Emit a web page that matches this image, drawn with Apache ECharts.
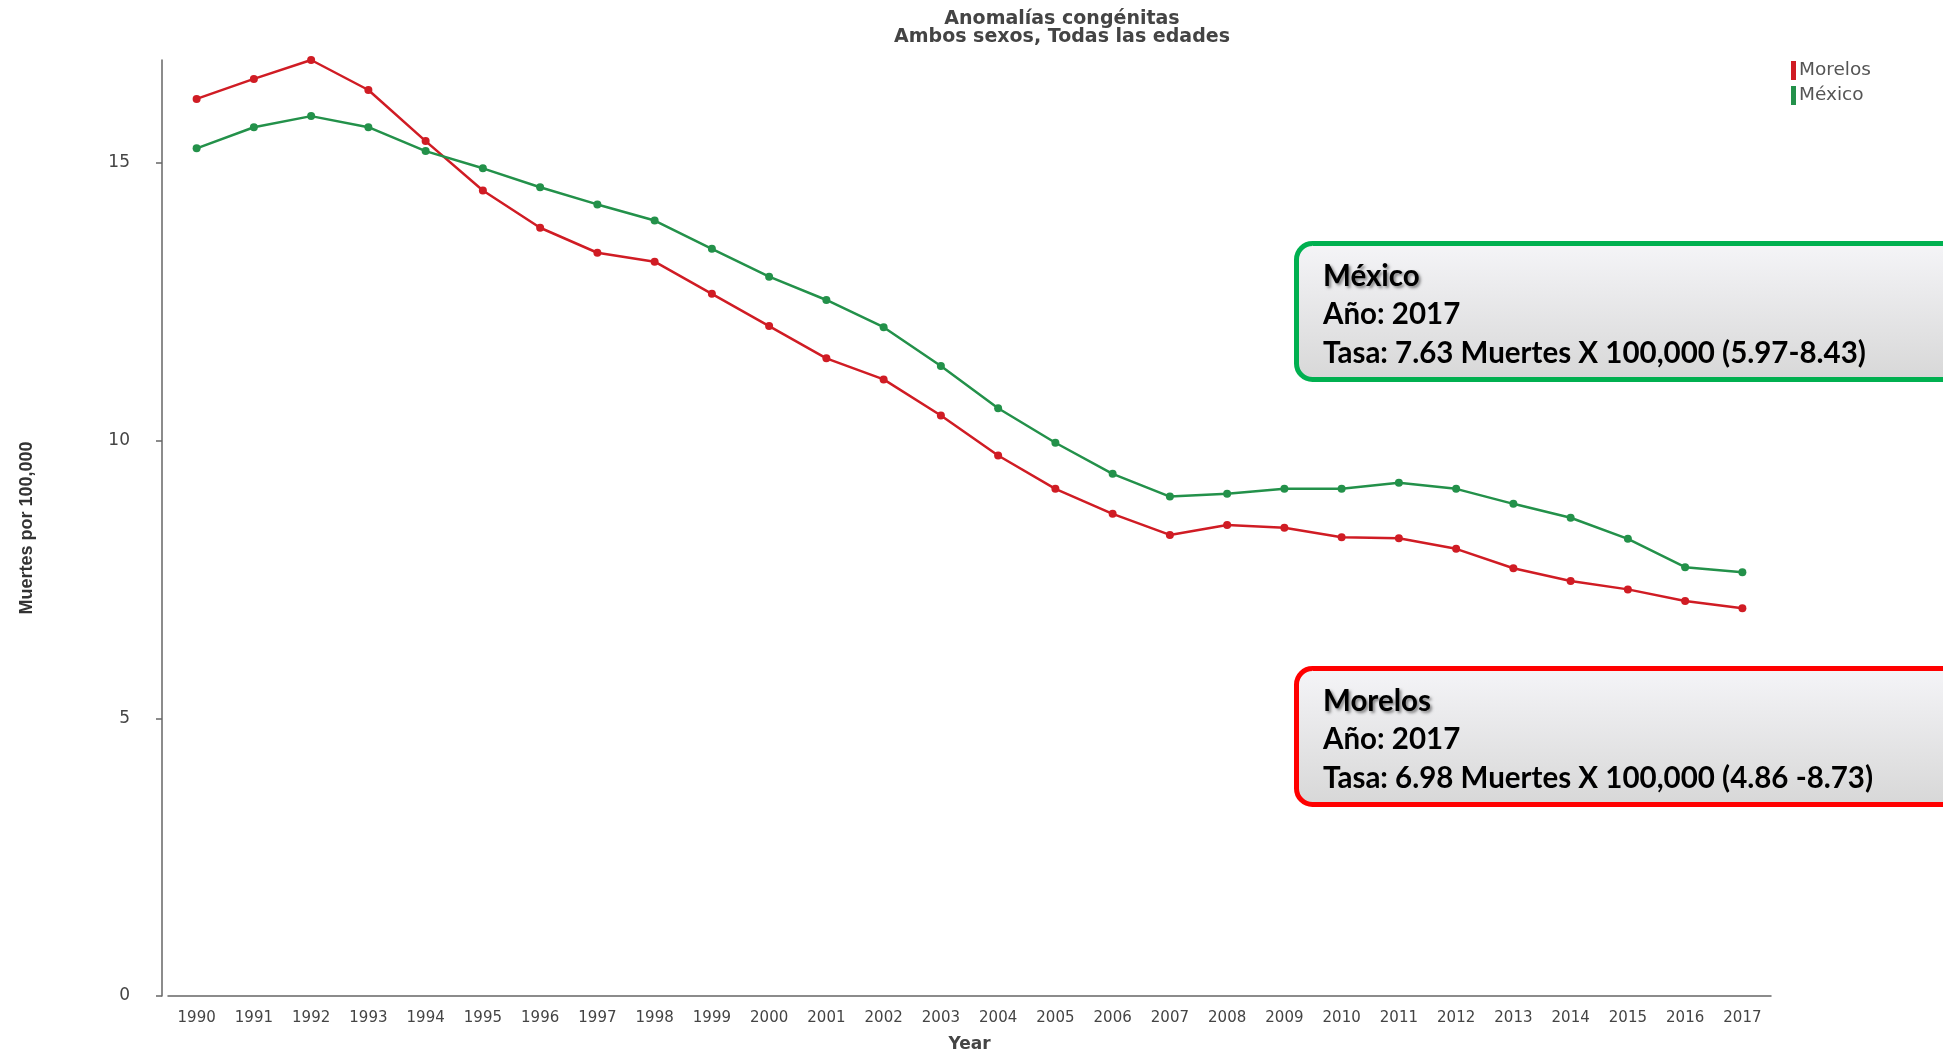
<!DOCTYPE html>
<html>
<head>
<meta charset="utf-8">
<script src="https://cdn.jsdelivr.net/npm/echarts@6/dist/echarts.min.js"></script>
<style>
  html, body { margin: 0; padding: 0; background: #fff; }
  #chart { width: 1943px; height: 1051px; }
</style>
</head>
<body>
<div id="chart"></div>
<script>
// años
const years = ['1990', '1991', '1992', '1993', '1994', '1995', '1996', '1997', '1998', '1999',
  '2000', '2001', '2002', '2003', '2004', '2005', '2006', '2007', '2008', '2009',
  '2010', '2011', '2012', '2013', '2014', '2015', '2016', '2017'];

// tasas por 100,000
const morelos = [16.15, 16.51, 16.85, 16.31, 15.39, 14.50, 13.83, 13.38, 13.22, 12.64,
  12.06, 11.48, 11.10, 10.45, 9.73, 9.13, 8.68, 8.30, 8.48, 8.43,
  8.26, 8.24, 8.05, 7.70, 7.47, 7.32, 7.11, 6.98];
const mexico = [15.26, 15.64, 15.84, 15.64, 15.21, 14.90, 14.56, 14.25, 13.96, 13.45,
  12.95, 12.53, 12.04, 11.34, 10.58, 9.96, 9.40, 8.99, 9.04, 9.13,
  9.13, 9.24, 9.13, 8.86, 8.61, 8.23, 7.72, 7.63];

const yTicks = [0, 5, 10, 15];

const boxMexico = ['México', 'Año: 2017', 'Tasa: 7.63 Muertes X 100,000 (5.97-8.43)'];
const boxMorelos = ['Morelos', 'Año: 2017', 'Tasa: 6.98 Muertes X 100,000 (4.86 -8.73)'];

const RED = '#d01c24';
const GREEN = '#23914a';
const axisColor = '#666';
const labelFont = 'DejaVu Sans, Verdana, sans-serif';
const boxFont = 'Lato, "Open Sans", sans-serif';

const chart = echarts.init(document.getElementById('chart'));

function annotation(top, color, lines) {
  const fill = new echarts.graphic.LinearGradient(0, 0, 0, 1, [
    {offset: 0, color: '#f5f5f8'},
    {offset: 1, color: '#d7d7d7'}
  ]);
  const items = [{
    type: 'rect',
    left: 1294,
    top: top,
    shape: {width: 680, height: 136, r: 16},
    style: {fill: fill, stroke: color, lineWidth: 5}
  }];
  lines.forEach((t, i) => {
    items.push({
      type: 'text',
      left: 1323,
      top: top + 20 + i * 38.5,
      style: {
        text: t,
        font: 'bold 29.5px ' + boxFont,
        fill: '#000',
        textShadowColor: i === 0 ? 'rgba(0,0,0,0.45)' : 'transparent',
        textShadowBlur: i === 0 ? 3 : 0,
        textShadowOffsetX: i === 0 ? 2 : 0,
        textShadowOffsetY: i === 0 ? 2 : 0
      }
    });
  });
  return items;
}

const option = {
  animation: false,
  backgroundColor: '#fff',
  title: {
    text: 'Anomalías congénitas\nAmbos sexos, Todas las edades',
    left: 1057,
    top: 5,
    textAlign: 'center',
    textStyle: {
      fontFamily: labelFont,
      fontSize: 19,
      fontWeight: 'bold',
      color: '#444',
      lineHeight: 18
    }
  },
  legend: {
    orient: 'vertical',
    left: 1786,
    top: 56,
    icon: 'rect',
    itemWidth: 5,
    itemHeight: 19,
    itemGap: 6,
    textStyle: {fontFamily: labelFont, fontSize: 18.5, color: '#555', padding: [0, 0, 0, -2]},
    data: ['Morelos', 'México']
  },
  grid: {
    left: 168,
    right: 172,
    top: 60,
    bottom: 55,
    outerBoundsMode: 'none'
  },
  xAxis: {
    type: 'category',
    data: years,
    boundaryGap: true,
    offset: 6,
    name: 'Year',
    nameLocation: 'middle',
    nameGap: 34,
    nameTextStyle: {fontFamily: labelFont, fontSize: 17, fontWeight: 'bold', color: '#444'},
    axisLine: {lineStyle: {color: axisColor, width: 1.5}},
    axisTick: {alignWithLabel: true, length: 6, lineStyle: {color: axisColor, width: 1.5}},
    axisLabel: {fontFamily: labelFont, fontSize: 15, color: '#444', margin: 9},
    splitLine: {show: false}
  },
  yAxis: {
    type: 'value',
    min: 0,
    max: 'dataMax',
    interval: 5,
    offset: 6,
    name: 'Muertes por 100,000',
    nameLocation: 'middle',
    nameRotate: 90,
    nameGap: 126,
    nameTextStyle: {fontFamily: 'Liberation Sans, Arial, sans-serif', fontSize: 18, fontWeight: 'bold', color: '#333'},
    axisLine: {show: true, lineStyle: {color: axisColor, width: 1.5}},
    axisTick: {show: true, length: 6, lineStyle: {color: axisColor, width: 1.5}},
    axisLabel: {
      fontFamily: labelFont, fontSize: 17, color: '#444', margin: 32,
      showMaxLabel: false,
      formatter: v => (yTicks.indexOf(v) >= 0 ? String(v) : '')
    },
    splitLine: {show: false}
  },
  series: [
    {
      name: 'Morelos',
      type: 'line',
      data: morelos,
      color: RED,
      symbol: 'circle',
      symbolSize: 8,
      lineStyle: {width: 2.5, color: RED},
      itemStyle: {color: RED}
    },
    {
      name: 'México',
      type: 'line',
      data: mexico,
      color: GREEN,
      symbol: 'circle',
      symbolSize: 8,
      lineStyle: {width: 2.5, color: GREEN},
      itemStyle: {color: GREEN}
    }
  ],
  graphic: [].concat(
    annotation(241, '#00b050', boxMexico),
    annotation(666, '#ff0000', boxMorelos)
  )
};

chart.setOption(option);
</script>
</body>
</html>
